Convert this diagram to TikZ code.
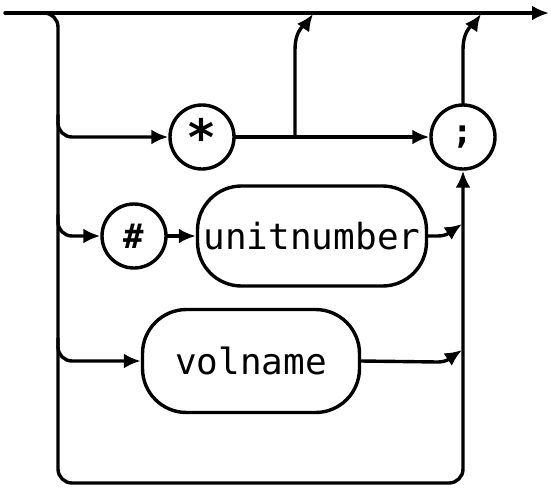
\documentclass[tikz,border=0pt]{standalone}
\usepackage{fontspec}
\setmonofont{DejaVu Sans Mono}
\usetikzlibrary{arrows.meta}
\begin{document}
\begin{tikzpicture}[x=1pt,y=-1pt,
  line/.style={line width=3.4pt, line cap=round, line join=round},
  arr/.style={-{Latex[length=17pt,width=15pt]}},
  term/.style={circle, draw, line width=3.4pt, minimum size=64pt, inner sep=0pt, font=\ttfamily\bfseries\fontsize{34}{34}\selectfont},
  nonterm/.style={rectangle, rounded corners=44pt, draw, line width=3.4pt, inner sep=0pt, font=\ttfamily\fontsize{36}{36}\selectfont}]
\useasboundingbox (0,0) rectangle (551,488);
% nodes
\node[term] (star) at (202,137) {\fontsize{50}{50}\selectfont\raisebox{-0.22em}{*}};
\node[term] (semi) at (463,137) {;};
\node[term] (hash) at (134,236) {\#};
\node[nonterm, minimum width=229pt, minimum height=100pt] (unit) at (312,236) {unitnumber};
\node[nonterm, minimum width=217pt, minimum height=103pt] (vol) at (251,361) {volname};
% coordinates
\coordinate (in) at (5,13);
\coordinate (out) at (549,13);
\coordinate (tl) at (44,13);
\coordinate (bl) at (58,483);
\coordinate (j1) at (313,14);
\coordinate (j2) at (481,14);
\coordinate (s1) at (58,115);
\coordinate (s2) at (58,215);
\coordinate (s3) at (58,338);
\coordinate (b1) at (295,137);
\coordinate (r2) at (462,224);
\coordinate (r3) at (462,350);
% connectors
\draw[line, arr] (in) -- (out);
\draw[line, rounded corners=14pt, arr] (tl) -| (bl) -| (semi.south);
\draw[line, rounded corners=14pt, arr] (s1) |- (star.west);
\draw[line, arr] (star.east) -- (semi.west);
\draw[line, arr] (b1) -- (295,50) .. controls (295,28) and (306,24) .. (j1);
\draw[line, arr] (semi.north) -- (463,50) .. controls (463,28) and (474,24) .. (j2);
\draw[line, rounded corners=14pt, arr] (s2) |- (hash.west);
\draw[line, arr] (hash.east) -- (unit.west);
\draw[line, arr] (unit.east) -- (438,236) .. controls (448,236) and (453,230) .. (r2);
\draw[line, rounded corners=14pt, arr] (s3) |- (vol.west);
\draw[line, arr] (vol.east) -- (438,362) .. controls (448,362) and (453,356) .. (r3);
\end{tikzpicture}
\end{document}
